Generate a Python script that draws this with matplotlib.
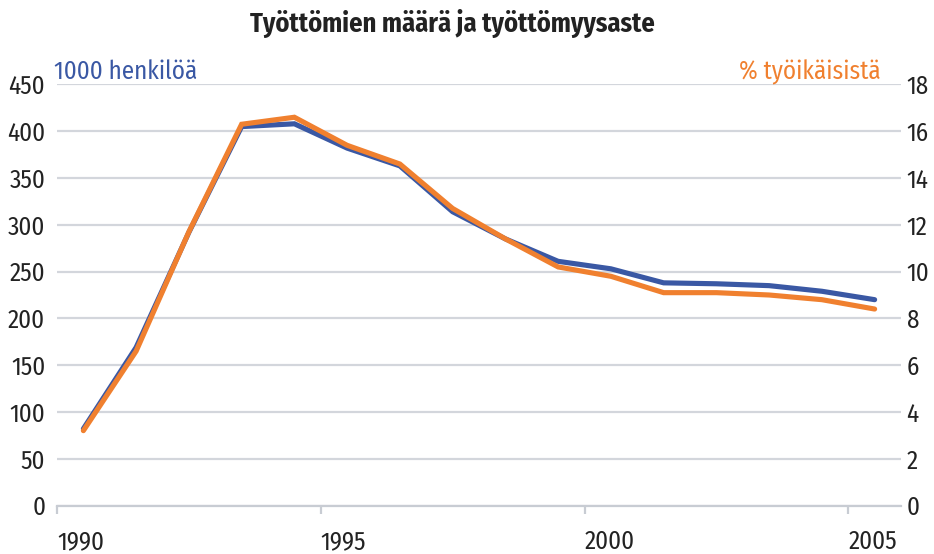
import matplotlib
matplotlib.use("Agg")
import matplotlib.pyplot as plt

years = [1990, 1991, 1992, 1993, 1994, 1995, 1996, 1997, 1998, 1999, 2000, 2001, 2002, 2003, 2004, 2005]
unemployed_thousands = [82, 169, 292, 405, 408, 382, 363, 314, 285, 261, 253, 238, 237, 235, 229, 220]
unemployment_rate = [3.2, 6.6, 11.7, 16.3, 16.6, 15.4, 14.6, 12.7, 11.4, 10.2, 9.8, 9.1, 9.1, 9.0, 8.8, 8.4]
left_ticks = [0, 50, 100, 150, 200, 250, 300, 350, 400, 450]
right_ticks = [0, 2, 4, 6, 8, 10, 12, 14, 16, 18]
x_ticks = [1990, 1995, 2000, 2005]

COND = ['Fira Sans Condensed', 'DejaVu Sans']
plt.rcParams['font.family'] = COND
plt.rcParams['font.weight'] = 'normal'

BLUE = '#3a58a4'
ORANGE = '#f0802f'
GRID = '#d3d6dc'
TXT = '#222222'
FS = 18

fig = plt.figure(figsize=(9.34, 5.54), dpi=100)
ax = fig.add_axes([57/934, 48.5/554, 844/934, 421/554])
ax2 = ax.twinx()

xs = [y + 0.5 for y in years]
ax.plot(xs, unemployed_thousands, color=BLUE, lw=3.7, solid_capstyle='round', solid_joinstyle='miter', zorder=3)
ax2.plot(xs, unemployment_rate, color=ORANGE, lw=3.7, solid_capstyle='round', solid_joinstyle='miter', zorder=3)

ax.set_xlim(1990, 2006)
ax.set_ylim(0, 450)
ax2.set_ylim(0, 18)
ax.set_yticks(left_ticks)
ax2.set_yticks(right_ticks)
ax.set_xticks(x_ticks)
ax.set_xticklabels([str(t) for t in x_ticks], ha='left')

for a in (ax, ax2):
    for s in a.spines.values():
        s.set_visible(False)
ax.grid(axis='y', color=GRID, lw=1.6)
ax.set_axisbelow(True)
ax.spines['bottom'].set_visible(True)
ax.spines['bottom'].set_color('#c8ccd3')
ax.spines['bottom'].set_linewidth(1.6)

ax.tick_params(axis='y', length=0, pad=8.5, labelsize=FS, labelcolor=TXT)
ax2.tick_params(axis='y', length=0, pad=4, labelsize=FS, labelcolor=TXT)
ax.tick_params(axis='x', length=5.5, width=1.6, color='#c8ccd3', pad=11.5, labelsize=FS, labelcolor=TXT)
ax2.set_zorder(ax.get_zorder() + 1)

fig.text(452/934, 1 - 23/554, 'Työttömien määrä ja työttömyysaste', ha='center', va='center',
         fontsize=19, fontweight='bold', color=TXT)
fig.text(54/934, 1 - 72/554, '1000 henkilöä', ha='left', va='center', fontsize=FS, color=BLUE)
fig.text(881/934, 1 - 72/554, '% työikäisistä', ha='right', va='center', fontsize=FS, color=ORANGE)

fig.savefig('out.png', dpi=100)
